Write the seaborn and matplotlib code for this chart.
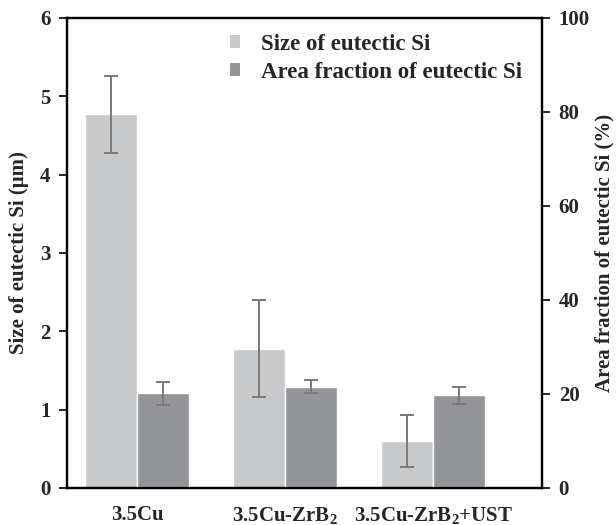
import matplotlib
matplotlib.use("Agg")
import matplotlib.pyplot as plt
import seaborn as sns
import pandas as pd
from matplotlib.patches import Patch

categories = ["3.5Cu", "3.5Cu-ZrB$_2$", "3.5Cu-ZrB$_2$+UST"]
size_vals = [4.77, 1.78, 0.60]
size_err = [0.49, 0.62, 0.33]
area_vals = [20.1, 21.5, 19.7]
area_err = [2.4, 1.4, 1.8]
series = ["Size of eutectic Si", "Area fraction of eutectic Si"]
colors = ["#c8c9cb", "#939598"]
left_ticks = [0, 1, 2, 3, 4, 5, 6]
right_ticks = [0, 20, 40, 60, 80, 100]

sns.set_style("ticks")
plt.rcParams["font.family"] = ["Liberation Serif", "DejaVu Serif"]
plt.rcParams["font.weight"] = "bold"
plt.rcParams["mathtext.fontset"] = "custom"
plt.rcParams["mathtext.rm"] = "Liberation Serif:bold"
plt.rcParams["mathtext.it"] = "Liberation Serif:bold"
plt.rcParams["mathtext.bf"] = "Liberation Serif:bold"

df = pd.concat([
    pd.DataFrame({"cat": categories, "val": size_vals, "series": series[0]}),
    pd.DataFrame({"cat": categories, "val": area_vals, "series": series[1]}),
], ignore_index=True)

fig = plt.figure(figsize=(6.16, 5.25), dpi=100)
ax1 = fig.add_axes([0.109, 0.0705, 0.771, 0.8955])
ax2 = ax1.twinx()

for ax in (ax1, ax2):
    sns.barplot(data=df, x="cat", y="val", hue="series", hue_order=series,
                order=categories, palette=colors, ax=ax, width=0.7, errorbar=None,
                legend=False, saturation=1)


def split(ax, keep_left):
    keep = []
    for p in list(ax.patches):
        c = p.get_x() + p.get_width() / 2
        is_left = c < round(c)
        if is_left == keep_left:
            keep.append(c)
        else:
            p.remove()
    return sorted(keep)


xs1 = split(ax1, True)
xs2 = split(ax2, False)

ecol = "#7a7a7a"
ax1.errorbar(xs1, size_vals, yerr=size_err, fmt="none", ecolor=ecol,
             elinewidth=1.4, capsize=5, capthick=1.4)
ax2.errorbar(xs2, area_vals, yerr=area_err, fmt="none", ecolor=ecol,
             elinewidth=1.4, capsize=5, capthick=1.4)

ax1.set_ylim(0, 6)
ax2.set_ylim(0, 100)
ax1.set_xlim(-0.473, 2.736)
ax1.set_yticks(left_ticks)
ax2.set_yticks(right_ticks)
ax1.set_xlabel("")
ax2.set_xlabel("")
ax1.set_ylabel("Size of eutectic Si (μm)", fontsize=15, fontweight="bold", labelpad=8)
ax2.set_ylabel("Area fraction of eutectic Si (%)", fontsize=15, fontweight="bold", labelpad=3)

for ax in (ax1, ax2):
    for s in ax.spines.values():
        s.set_visible(True)
        s.set_linewidth(1.6)
        s.set_color("black")
    ax.tick_params(axis="y", direction="out", length=6, width=1.4, labelsize=15, pad=6)
ax1.tick_params(axis="x", length=0, labelsize=15, pad=12)
for lbl in ax1.get_xticklabels() + ax1.get_yticklabels() + ax2.get_yticklabels():
    lbl.set_fontweight("bold")

handles = [Patch(facecolor=colors[0], edgecolor="none"), Patch(facecolor=colors[1], edgecolor="none")]
fig.legend(handles, series, loc="upper left", bbox_to_anchor=(0.34, 0.975), frameon=False,
           handlelength=0.45, handleheight=0.45, handletextpad=0.9,
           labelspacing=0.3, prop={"weight": "bold", "size": 16.5})

fig.savefig("out.png", dpi=100)
